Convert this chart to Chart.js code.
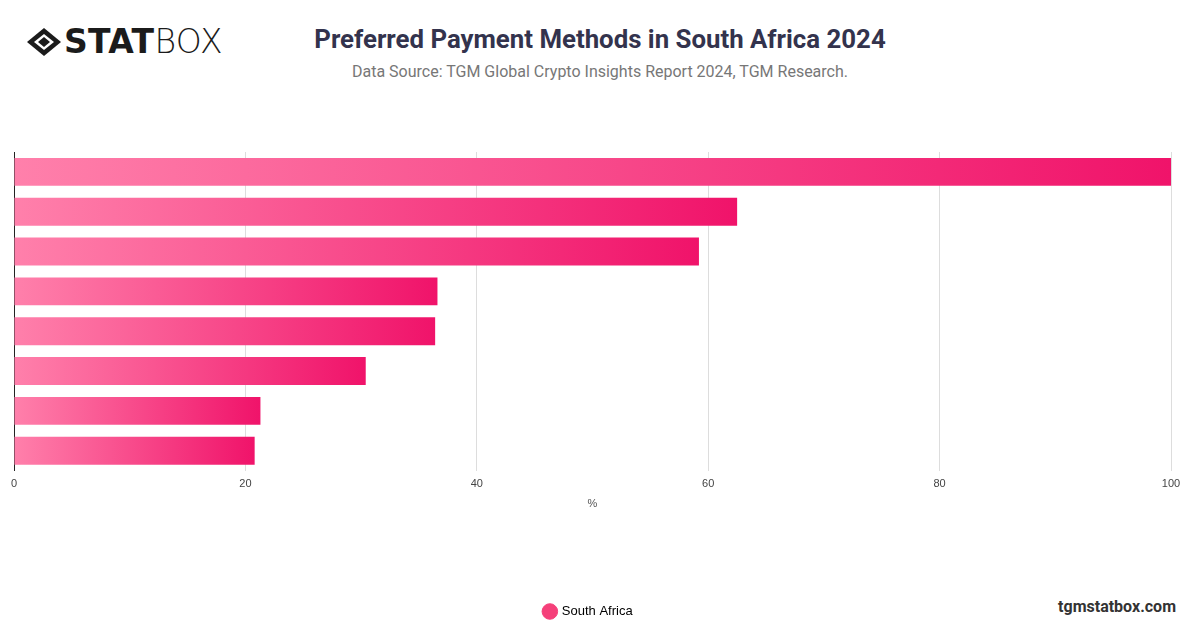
<!DOCTYPE html>
<html>
<head>
<meta charset="utf-8">
<script src="https://cdn.jsdelivr.net/npm/chart.js@4.4.1/dist/chart.umd.min.js"></script>
<style>
  body { margin: 0; width: 1200px; height: 628px; background: #fff; font-family: Roboto, "Noto Sans", sans-serif; position: relative; overflow: hidden; }
  .logo { position: absolute; left: 26px; top: 22px; display: flex; align-items: center; }
  .logo .word { font-family: "DejaVu Sans", sans-serif; font-size: 33px; color: #1b1b1b; letter-spacing: 0.3px; margin-left: 2px; }
  .logo .word b { font-weight: 900; }
  .logo .word span { font-weight: 300; }
  h1 { position: absolute; left: 0; width: 1200px; top: 24px; margin: 0; text-align: center; font-size: 25.8px; font-weight: 700; color: #33334d; }
  .sub { position: absolute; left: 0; width: 1200px; top: 62px; text-align: center; font-size: 16px; color: #777; }
  .site { position: absolute; right: 24px; top: 597px; font-size: 16px; font-weight: 700; color: #333; }
  #wrap { position: absolute; left: 0; top: 152px; width: 1200px; height: 476px; }
</style>
</head>
<body>
<div class="logo">
  <svg width="36" height="30" viewBox="0 0 36 30">
    <polygon points="18,1 35,15 18,29 1,15" fill="#1b1b1b"/>
    <polygon points="18,7 28,15 18,23 8,15" fill="#fff"/>
    <polygon points="18,10 24,15 18,20 12,15" fill="#1b1b1b"/>
  </svg>
  <div class="word"><b>STAT</b><span>BOX</span></div>
</div>
<h1>Preferred Payment Methods in South Africa 2024</h1>
<div class="sub">Data Source: TGM Global Crypto Insights Report 2024, TGM Research.</div>
<div class="site">tgmstatbox.com</div>
<div id="wrap"><canvas id="chart"></canvas></div>
<script>
// categories are not printed on the picture; y ticks are hidden
const categories = ["Debit card", "Credit card", "Bank transfer", "Cash", "Mobile wallet", "EFT", "Crypto", "Other"];
const southAfrica = [100, 62.5, 59.2, 36.6, 36.4, 30.4, 21.3, 20.8];
const xTicks = [0, 20, 40, 60, 80, 100];

function barGradient(ctx) {
  const chart = ctx.chart;
  if (!chart.chartArea || ctx.type !== "data") return "#f5487f";
  const x = chart.scales.x;
  const x0 = x.getPixelForValue(0);
  const x1 = x.getPixelForValue(ctx.raw);
  const g = chart.ctx.createLinearGradient(x0, 0, x1, 0);
  g.addColorStop(0, "#ff80ab");
  g.addColorStop(1, "#f0136a");
  return g;
}

new Chart(document.getElementById("chart"), {
  type: "bar",
  data: {
    labels: categories,
    datasets: [{
      label: "South Africa",
      data: southAfrica,
      backgroundColor: barGradient,
      categoryPercentage: 0.7,
      barPercentage: 1
    }]
  },
  options: {
    indexAxis: "y",
    responsive: true,
    maintainAspectRatio: false,
    animation: false,
    layout: { padding: { left: 6, right: 29, top: 0, bottom: 0 } },
    scales: {
      x: {
        min: 0, max: 100,
        afterBuildTicks: axis => { axis.ticks = xTicks.map(v => ({ value: v })); },
        grid: { color: "#dddddd", drawTicks: false },
        border: { display: false },
        ticks: { color: "#444", font: { size: 11 }, padding: 7 },
        title: { display: true, text: "%", color: "#555", font: { size: 11 }, padding: { top: 0, bottom: 82 } }
      },
      y: {
        grid: { display: false },
        border: { display: true, color: "#222" },
        ticks: { display: false }
      }
    },
    plugins: {
      legend: {
        position: "bottom",
        labels: { usePointStyle: true, pointStyle: "circle", boxWidth: 11, boxHeight: 11, padding: 12, color: "#444", font: { size: 13 }, generateLabels: chart => [{ text: "South Africa", fillStyle: "#f5407a", strokeStyle: "#f5407a", pointStyle: "circle", datasetIndex: 0 }] }
      },
      tooltip: { enabled: false }
    }
  }
});
</script>
</body>
</html>
